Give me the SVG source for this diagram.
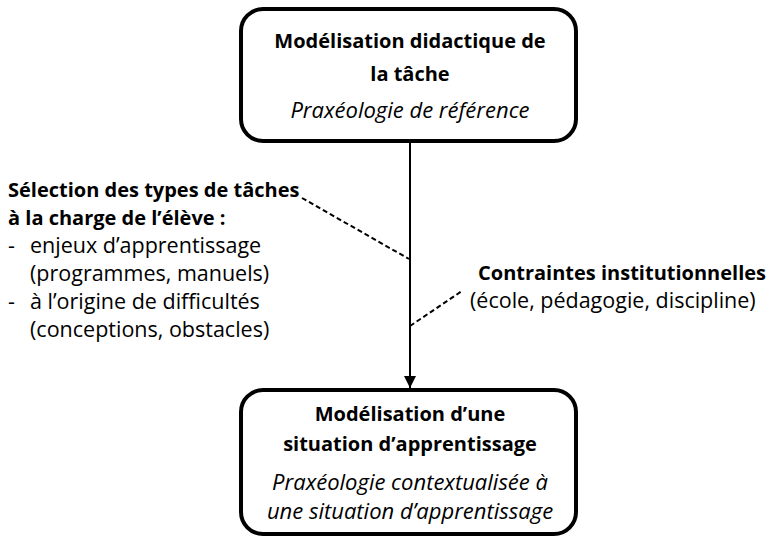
<svg xmlns="http://www.w3.org/2000/svg" width="769" height="537" viewBox="0 0 769 537">
<defs>
<style>
.box{fill:#fff;stroke:#000;stroke-width:4}
text{font-family:"Open Sans","Liberation Sans",sans-serif;font-size:21.5px;fill:#000}
.b{font-weight:bold;font-size:20px}
.i{font-style:italic;font-size:22px}
.c{text-anchor:middle}
.dash{stroke:#000;stroke-width:2;stroke-dasharray:5 3;fill:none}
.line{stroke:#000;stroke-width:2;fill:none}
</style>
<marker id="arr" markerWidth="12" markerHeight="14" refX="12" refY="6" orient="auto" markerUnits="userSpaceOnUse" viewBox="0 0 12 12">
<path d="M0,0 L12,6 L0,12 Z" fill="#000"/>
</marker>
</defs>
<g id="connectors">
<line class="line" x1="410" y1="143" x2="410" y2="388" marker-end="url(#arr)"/>
<line class="dash" x1="302" y1="198" x2="409" y2="259"/>
<line class="dash" x1="410" y1="326" x2="462" y2="291"/>
</g>
<g id="top">
<rect class="box" x="241" y="9" width="335" height="132" rx="22"/>
<text class="b c" x="410" y="48">Modélisation didactique de</text>
<text class="b c" x="410" y="81">la tâche</text>
<text class="i c" x="410" y="118">Praxéologie de référence</text>
</g>
<g id="bottom">
<rect class="box" x="241" y="390" width="335" height="144" rx="22"/>
<text class="b c" x="410" y="421">Modélisation d’une</text>
<text class="b c" x="410" y="451">situation d’apprentissage</text>
<text class="i c" x="410" y="490">Praxéologie contextualisée à</text>
<text class="i c" x="410" y="519">une situation d’apprentissage</text>
</g>
<g id="left-label">
<text class="b" x="8" y="197">Sélection des types de tâches</text>
<text class="b" x="8" y="225">à la charge de l’élève :</text>
<text x="8" y="253">-</text>
<text x="30" y="253">enjeux d’apprentissage</text>
<text x="30" y="281">(programmes, manuels)</text>
<text x="8" y="309">-</text>
<text x="30" y="309">à l’origine de difficultés</text>
<text x="30" y="337">(conceptions, obstacles)</text>
</g>
<g id="right-label">
<text class="b" x="478" y="280">Contraintes institutionnelles</text>
<text x="470" y="308">(école, pédagogie, discipline)</text>
</g>
</svg>
